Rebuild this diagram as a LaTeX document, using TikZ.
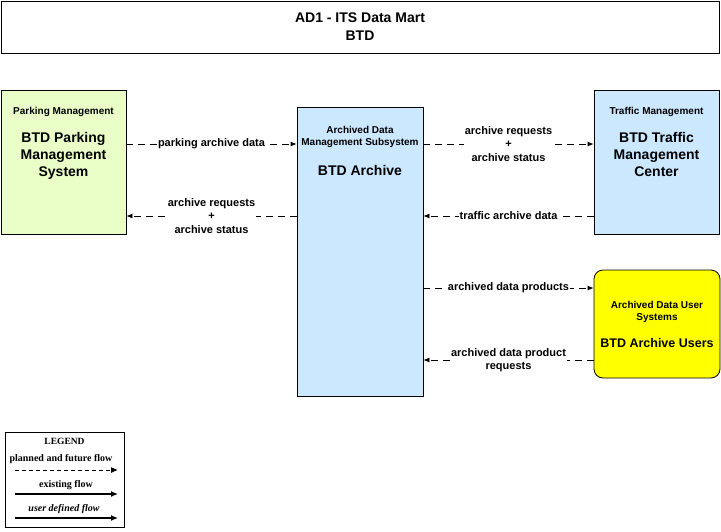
\documentclass[tikz,border=0pt]{standalone}
\usepackage{fontspec}
\setmainfont{Liberation Sans}
\newfontfamily\legfont{Liberation Serif}
\usepackage{xcolor}
\usepackage{tikz}
\usetikzlibrary{arrows.meta, positioning}
\definecolor{parkgreen}{RGB}{234, 255, 200}
\definecolor{archblue}{RGB}{204, 232, 255}
\definecolor{useryellow}{RGB}{255, 255, 0}

\tikzset{
  sysbox/.style={draw=black, line width=0.8pt, minimum width=#1, inner sep=0pt},
  hdr/.style={font=\fontsize{10}{12.5}\selectfont\bfseries, align=center, inner sep=1pt},
  ttl/.style={font=\fontsize{14}{17}\selectfont\bfseries, align=center, inner sep=1pt},
  flow/.style={-{Latex[length=6pt,width=5pt]}, line width=0.8pt, dash pattern=on 7pt off 5pt},
  lbl/.style={font=\fontsize{11}{13.5}\selectfont\bfseries, align=center, fill=white, inner sep=1pt},
  legtext/.style={font=\legfont\fontsize{10}{12}\selectfont\bfseries},
  legarrow/.style={-{Latex[length=7pt,width=6pt]}, line width=1.3pt}
}

\begin{document}
\begin{tikzpicture}[x=1pt, y=-1pt]
  \useasboundingbox (0,0) rectangle (721,531);

  % title
  \node[draw=black, line width=0.8pt, minimum width=718pt, minimum height=52pt,
        font=\fontsize{14}{18}\selectfont\bfseries, align=center] (title) at (360,27)
        {AD1 - ITS Data Mart\\BTD};

  % systems
  \node[sysbox=125pt, fill=parkgreen, minimum height=144pt] (park) at (63.5,162) {};
  \node[hdr, below=16pt of park.north] (parkhdr) {Parking Management};
  \node[ttl, below=14pt of parkhdr] {BTD Parking\\Management\\System};

  \node[sysbox=126pt, fill=archblue, minimum height=289pt] (arch) at (360,251.5) {};
  \node[hdr, below=18pt of arch.north] (archhdr) {Archived Data\\Management Subsystem};
  \node[ttl, below=15pt of archhdr] {BTD Archive};

  \node[sysbox=125pt, fill=archblue, minimum height=144pt] (traf) at (656.5,162) {};
  \node[hdr, below=16pt of traf.north] (trafhdr) {Traffic Management};
  \node[ttl, below=14pt of trafhdr] {BTD Traffic\\Management\\Center};

  \node[sysbox=126pt, fill=useryellow, minimum height=108pt, rounded corners=9pt] (users) at (657,324) {};
  \node[hdr, below=30pt of users.north] (usershdr) {Archived Data User\\Systems};
  \node[ttl, font=\fontsize{12.5}{15}\selectfont\bfseries, below=13pt of usershdr] {BTD Archive Users};

  % flows
  \draw[flow] (park.east |- 0,144) -- node[lbl] {parking archive data} (arch.west |- 0,144);
  \draw[flow] (arch.west |- 0,216) -- node[lbl] {archive requests\\+\\archive status} (park.east |- 0,216);
  \draw[flow] (arch.east |- 0,144) -- node[lbl] {archive requests\\+\\archive status} (traf.west |- 0,144);
  \draw[flow] (traf.west |- 0,216) -- node[lbl] {traffic archive data} (arch.east |- 0,216);
  \draw[flow] (arch.east |- 0,288) -- node[lbl] {archived data products} (users.west |- 0,288);
  \draw[flow] (users.west |- 0,360) -- node[lbl] {archived data product\\requests} (arch.east |- 0,360);

  % legend
  \node[draw=black, line width=0.9pt, minimum width=119pt, minimum height=95pt] (legend) at (64.5,479.5) {};
  \node[legtext, font=\legfont\fontsize{9.5}{11}\selectfont\bfseries, below=3pt of legend.north] (leghdr) {LEGEND};
  \coordinate (l1a) at (15,470);  \coordinate (l1b) at (118,470);
  \coordinate (l2a) at (15,494);  \coordinate (l2b) at (118,494);
  \coordinate (l3a) at (15,518);  \coordinate (l3b) at (118,518);
  \node[legtext] at (61,459) {planned and future flow};
  \draw[legarrow, line width=1pt, dash pattern=on 4pt off 3pt] (l1a) -- (l1b);
  \node[legtext] at (66,485) {existing flow};
  \draw[legarrow] (l2a) -- (l2b);
  \node[legtext, font=\legfont\fontsize{10}{12}\selectfont\bfseries\itshape] at (64,509) {user defined flow};
  \draw[legarrow] (l3a) -- (l3b);
\end{tikzpicture}
\end{document}
